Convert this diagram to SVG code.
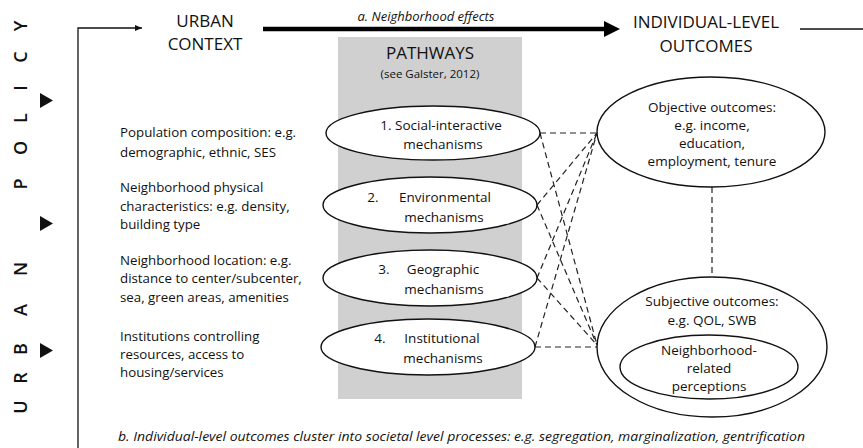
<svg xmlns="http://www.w3.org/2000/svg" width="863" height="448" viewBox="0 0 863 448">
<defs>
<style>
.t{font-family:"Open Sans","Liberation Sans",sans-serif;fill:#111;}
.h{font-size:17px;text-anchor:middle;}
.l{font-size:13.3px;}
.c{font-size:13.5px;text-anchor:middle;}
.i{font-style:italic;font-size:13px;}
.v{font-size:18px;font-weight:600;text-anchor:middle;}
.e{fill:#fff;stroke:#111;stroke-width:1.4;}
.d{stroke:#222;stroke-width:1.2;stroke-dasharray:6 4;fill:none;}
</style>
<marker id="sa" markerWidth="8" markerHeight="8" refX="7" refY="3" orient="auto" markerUnits="userSpaceOnUse"><path d="M0,0 L7,3 L0,6 Z" fill="#111"/></marker>
</defs>
<rect width="863" height="448" fill="#fff"/>
<g id="urban-policy" class="t v">
<text transform="translate(27,407) rotate(-90)">U</text>
<text transform="translate(27,378) rotate(-90)">R</text>
<text transform="translate(27,349) rotate(-90)">B</text>
<text transform="translate(27,310) rotate(-90)">A</text>
<text transform="translate(27,269) rotate(-90)">N</text>
<text transform="translate(27,184) rotate(-90)">P</text>
<text transform="translate(27,148) rotate(-90)">O</text>
<text transform="translate(27,118) rotate(-90)">L</text>
<text transform="translate(27,88) rotate(-90)">I</text>
<text transform="translate(27,57) rotate(-90)">C</text>
<text transform="translate(27,26) rotate(-90)">Y</text>
</g>
<g id="triangles" fill="#111">
<polygon points="40,93 53,100.5 40,108"/>
<polygon points="40,216 53,223.5 40,231"/>
<polygon points="40,343 53,350.5 40,358"/>
</g>
<g id="pathways-bg">
<rect x="338" y="37" width="184" height="362" fill="#d0d0d0"/>
<text class="t" x="430" y="59" font-size="17" text-anchor="middle">PATHWAYS</text>
<text class="t" x="430" y="78" font-size="11.5" text-anchor="middle">(see Galster, 2012)</text>
</g>
<g id="connectors">
<polyline points="78,448 78,28 142,28" fill="none" stroke="#111" stroke-width="1.3" marker-end="url(#sa)"/>
<line x1="263" y1="29" x2="606" y2="29" stroke="#000" stroke-width="4.5"/>
<polygon points="604,21 620,29 604,37" fill="#000"/>
<line x1="800" y1="29" x2="863" y2="29" stroke="#111" stroke-width="1.3"/>
<line class="d" x1="540" y1="133" x2="597" y2="133"/>
<line class="d" x1="540" y1="133" x2="597" y2="345"/>
<line class="d" x1="537" y1="205" x2="597" y2="133"/>
<line class="d" x1="537" y1="205" x2="597" y2="345"/>
<line class="d" x1="537" y1="278" x2="597" y2="133"/>
<line class="d" x1="537" y1="278" x2="597" y2="345"/>
<line class="d" x1="535" y1="347" x2="597" y2="133"/>
<line class="d" x1="535" y1="347" x2="597" y2="347"/>
<line class="d" x1="712" y1="187" x2="712" y2="277"/>
</g>
<g id="urban-context"><text class="t h" x="205" y="27">URBAN</text><text class="t h" x="205" y="50">CONTEXT</text></g>
<g id="neighborhood-effects"><text class="t i" x="426" y="21" font-size="14.5" text-anchor="middle">a. Neighborhood effects</text></g>
<g id="individual-outcomes"><text class="t h" x="706" y="28">INDIVIDUAL-LEVEL</text><text class="t h" x="706" y="52">OUTCOMES</text></g>
<g id="context-items" class="t l">
<text x="120" y="137">Population composition: e.g.</text>
<text x="120" y="157">demographic, ethnic, SES</text>
<text x="120" y="192">Neighborhood physical</text>
<text x="120" y="211">characteristics: e.g. density,</text>
<text x="120" y="229">building type</text>
<text x="120" y="265">Neighborhood location: e.g.</text>
<text x="120" y="283">distance to center/subcenter,</text>
<text x="120" y="302">sea, green areas, amenities</text>
<text x="120" y="341">Institutions controlling</text>
<text x="120" y="359">resources, access to</text>
<text x="120" y="377">housing/services</text>
</g>
<g id="p1"><ellipse class="e" cx="433" cy="133" rx="107" ry="27"/><text class="t c" x="441" y="130">1.  Social-interactive</text><text class="t c" x="443" y="149">mechanisms</text></g>
<g id="p2"><ellipse class="e" cx="430" cy="205" rx="107" ry="28"/><text class="t c" y="202"><tspan x="373">2.</tspan><tspan x="445">Environmental</tspan></text><text class="t c" x="444" y="222">mechanisms</text></g>
<g id="p3"><ellipse class="e" cx="430" cy="278" rx="107" ry="28"/><text class="t c" y="274"><tspan x="384">3.</tspan><tspan x="443">Geographic</tspan></text><text class="t c" x="444" y="294">mechanisms</text></g>
<g id="p4"><ellipse class="e" cx="428" cy="347" rx="107" ry="28"/><text class="t c" y="343"><tspan x="380">4.</tspan><tspan x="442">Institutional</tspan></text><text class="t c" x="443" y="363">mechanisms</text></g>
<g id="objective"><ellipse class="e" cx="711" cy="132" rx="114" ry="55"/>
<text class="t c" x="712" y="112">Objective outcomes:</text>
<text class="t c" x="712" y="130">e.g. income,</text>
<text class="t c" x="712" y="148">education,</text>
<text class="t c" x="712" y="166">employment, tenure</text></g>
<g id="subjective"><ellipse class="e" cx="712" cy="347" rx="115" ry="70"/>
<text class="t c" x="712" y="306">Subjective outcomes:</text>
<text class="t c" x="712" y="325">e.g. QOL, SWB</text></g>
<g id="perceptions"><ellipse class="e" cx="709" cy="367" rx="89" ry="32"/>
<text class="t c" x="709" y="355">Neighborhood-</text>
<text class="t c" x="709" y="373">related</text>
<text class="t c" x="709" y="391">perceptions</text></g>
<g id="societal"><text class="t i" x="118" y="441" textLength="687" lengthAdjust="spacingAndGlyphs">b. Individual-level outcomes cluster into societal level processes: e.g. segregation, marginalization, gentrification</text></g>
</svg>
